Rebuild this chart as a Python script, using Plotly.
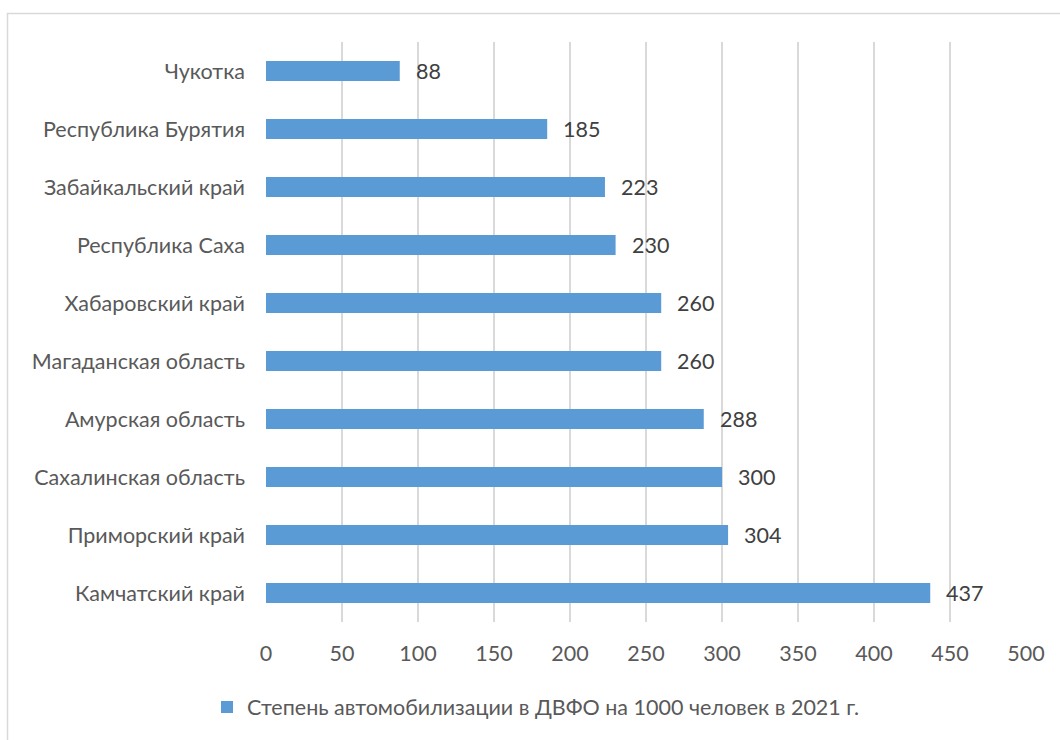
import plotly.graph_objects as go

regions = ["Камчатский край", "Приморский край", "Сахалинская область", "Амурская область",
           "Магаданская область", "Хабаровский край", "Республика Саха", "Забайкальский край",
           "Республика Бурятия", "Чукотка"]
values = [437, 304, 300, 288, 260, 260, 230, 223, 185, 88]
series_name = "Степень автомобилизации в ДВФО на 1000 человек в 2021 г."
x_ticks = [0, 50, 100, 150, 200, 250, 300, 350, 400, 450, 500]

FONT = "Lato, 'Open Sans', sans-serif"
GRAY = "#595959"
FS = 21.5
W, H = 1060, 740
L, R, T, B = 266, 34, 42, 118
pw, ph = W - L - R, H - T - B

fig = go.Figure()
fig.add_trace(go.Bar(
    x=values, y=regions, orientation="h", name=series_name,
    marker=dict(color="#5B9BD5", line=dict(width=0)), width=0.345,
    showlegend=True,
))
for v, r in zip(values, regions):
    fig.add_annotation(x=v, y=r, text=str(v), showarrow=False, xanchor="left",
                       xshift=14, font=dict(family=FONT, size=FS, color="#404040"))

def px_x(p):
    return (p - L) / pw

def px_y(p):
    return 1 - (p - T) / ph

fig.add_shape(type="rect", xref="paper", yref="paper",
              x0=px_x(7.5), x1=px_x(1070), y0=px_y(13.5), y1=px_y(760),
              line=dict(color="#D9D9D9", width=1.5), layer="below")

fig.update_layout(
    width=W, height=H,
    margin=dict(l=L, r=R, t=T, b=B, pad=0),
    paper_bgcolor="white", plot_bgcolor="white",
    font=dict(family=FONT, size=FS, color=GRAY),
    bargap=0.655,
    xaxis=dict(range=[0, 500], tickvals=x_ticks, showgrid=True, gridcolor="#D9D9D9",
               gridwidth=1.5, zeroline=False, showline=False, ticks="",
               ticklabelstandoff=16, tickfont=dict(size=FS, color=GRAY), fixedrange=True),
    yaxis=dict(categoryorder="array", categoryarray=regions, range=[-0.5, 9.5],
               showgrid=False, zeroline=False, showline=False, ticks="",
               ticklabelstandoff=20, tickfont=dict(size=FS, color=GRAY), fixedrange=True),
    legend=dict(orientation="h", x=px_x(536), xanchor="center", y=px_y(707), yanchor="middle",
                font=dict(size=FS, color=GRAY), itemwidth=30, bgcolor="rgba(0,0,0,0)"),
)
fig.write_html("out.html")
